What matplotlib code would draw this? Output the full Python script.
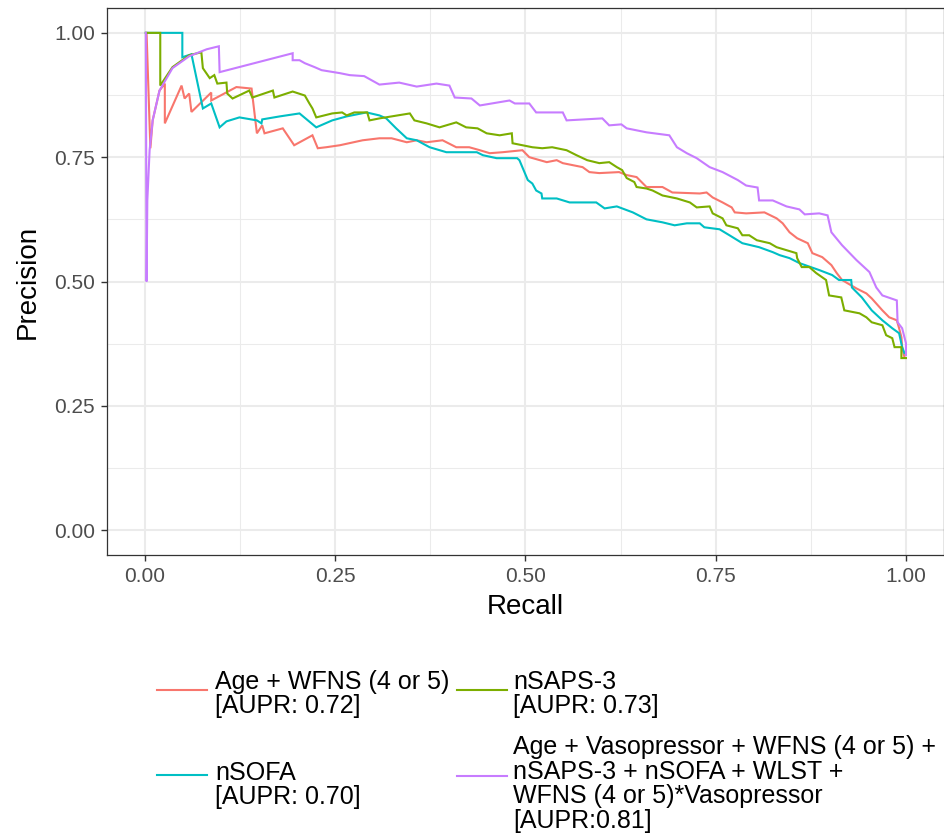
import matplotlib
matplotlib.use("Agg")
import matplotlib.pyplot as plt
from matplotlib.lines import Line2D

plt.rcParams['font.family'] = ['Liberation Sans', 'DejaVu Sans']

# ---------------- data ----------------
age_recall = [0.002, 0.007, 0.010, 0.019, 0.026, 0.026, 0.048, 0.052, 0.058, 0.061, 0.087, 0.087,
              0.120, 0.140, 0.147, 0.154, 0.157, 0.181, 0.196, 0.220, 0.227, 0.238,
              0.256, 0.286, 0.308, 0.324, 0.344, 0.357, 0.370, 0.391, 0.409, 0.426,
              0.440, 0.453, 0.470, 0.496, 0.505, 0.528, 0.541, 0.549, 0.575, 0.584,
              0.597, 0.623, 0.633, 0.646, 0.659, 0.680, 0.693, 0.729, 0.738, 0.746,
              0.759, 0.771, 0.775, 0.790, 0.814, 0.830, 0.838, 0.847, 0.857, 0.871,
              0.877, 0.890, 0.902, 0.909, 0.916, 0.935, 0.948, 0.955, 0.969, 0.978,
              0.988, 0.991, 0.994, 0.995, 0.998]
age_precision = [1.000, 0.768, 0.824, 0.884, 0.898, 0.818, 0.894, 0.868, 0.878, 0.841, 0.880, 0.864,
                 0.891, 0.888, 0.798, 0.814, 0.798, 0.808, 0.774, 0.794, 0.768, 0.770,
                 0.774, 0.784, 0.788, 0.788, 0.780, 0.784, 0.780, 0.784, 0.770, 0.770,
                 0.764, 0.758, 0.760, 0.764, 0.750, 0.740, 0.744, 0.738, 0.730, 0.720,
                 0.718, 0.720, 0.714, 0.710, 0.690, 0.690, 0.679, 0.677, 0.679, 0.669,
                 0.659, 0.649, 0.639, 0.637, 0.639, 0.627, 0.617, 0.599, 0.587, 0.577,
                 0.557, 0.549, 0.533, 0.517, 0.503, 0.486, 0.476, 0.466, 0.442, 0.428,
                 0.422, 0.406, 0.388, 0.368, 0.348]

nsaps_recall = [0.001, 0.020, 0.020, 0.036, 0.058, 0.074, 0.076, 0.085, 0.091, 0.095,
                0.107, 0.108, 0.115, 0.137, 0.141, 0.168, 0.170, 0.194, 0.210, 0.216,
                0.220, 0.225, 0.246, 0.259, 0.265, 0.275, 0.292, 0.295, 0.308, 0.348,
                0.354, 0.370, 0.387, 0.409, 0.422, 0.437, 0.449, 0.466, 0.482, 0.483,
                0.509, 0.522, 0.535, 0.554, 0.567, 0.581, 0.597, 0.610, 0.620, 0.627,
                0.633, 0.643, 0.646, 0.659, 0.667, 0.680, 0.699, 0.716, 0.725, 0.742,
                0.746, 0.759, 0.764, 0.779, 0.785, 0.794, 0.804, 0.821, 0.830, 0.843,
                0.856, 0.857, 0.863, 0.873, 0.882, 0.895, 0.899, 0.915, 0.919, 0.939,
                0.948, 0.955, 0.969, 0.974, 0.982, 0.985, 0.994, 0.994, 1.000]
nsaps_precision = [1.000, 1.000, 0.894, 0.931, 0.955, 0.961, 0.929, 0.909, 0.915, 0.898,
                   0.900, 0.878, 0.868, 0.884, 0.870, 0.884, 0.870, 0.882, 0.874, 0.858,
                   0.848, 0.830, 0.838, 0.840, 0.834, 0.840, 0.840, 0.824, 0.828, 0.838,
                   0.824, 0.818, 0.810, 0.820, 0.810, 0.808, 0.798, 0.794, 0.798, 0.778,
                   0.770, 0.768, 0.770, 0.764, 0.754, 0.744, 0.738, 0.740, 0.730, 0.724,
                   0.708, 0.700, 0.690, 0.687, 0.683, 0.673, 0.667, 0.659, 0.649, 0.651,
                   0.637, 0.627, 0.613, 0.607, 0.593, 0.593, 0.583, 0.577, 0.569, 0.563,
                   0.557, 0.547, 0.529, 0.529, 0.517, 0.503, 0.472, 0.468, 0.442, 0.436,
                   0.428, 0.418, 0.412, 0.392, 0.386, 0.368, 0.368, 0.346, 0.346]

nsofa_recall = [0.001, 0.049, 0.049, 0.061, 0.076, 0.087, 0.098, 0.107, 0.124, 0.147,
                0.153, 0.154, 0.177, 0.203, 0.225, 0.246, 0.265, 0.291, 0.308, 0.317,
                0.330, 0.344, 0.357, 0.374, 0.396, 0.436, 0.444, 0.462, 0.489, 0.492,
                0.503, 0.509, 0.514, 0.521, 0.522, 0.541, 0.558, 0.593, 0.604, 0.620,
                0.641, 0.659, 0.680, 0.696, 0.712, 0.729, 0.735, 0.755, 0.768, 0.785,
                0.807, 0.825, 0.834, 0.847, 0.860, 0.886, 0.903, 0.912, 0.928, 0.929,
                0.942, 0.955, 0.969, 0.982, 0.991, 0.995, 0.998]
nsofa_precision = [1.000, 1.000, 0.951, 0.957, 0.848, 0.858, 0.810, 0.822, 0.830, 0.824,
                   0.818, 0.826, 0.832, 0.838, 0.810, 0.824, 0.832, 0.840, 0.834, 0.828,
                   0.808, 0.788, 0.784, 0.770, 0.760, 0.760, 0.754, 0.748, 0.748, 0.744,
                   0.704, 0.697, 0.683, 0.677, 0.667, 0.667, 0.659, 0.659, 0.647, 0.651,
                   0.639, 0.625, 0.619, 0.613, 0.617, 0.617, 0.609, 0.605, 0.593, 0.577,
                   0.569, 0.559, 0.553, 0.547, 0.537, 0.523, 0.513, 0.503, 0.503, 0.488,
                   0.468, 0.442, 0.422, 0.406, 0.396, 0.368, 0.356]

full_recall = [0.001, 0.002, 0.003, 0.006, 0.010, 0.019, 0.036, 0.058, 0.081, 0.097,
               0.098, 0.194, 0.194, 0.203, 0.210, 0.223, 0.232, 0.256, 0.269, 0.288,
               0.308, 0.334, 0.357, 0.383, 0.400, 0.407, 0.429, 0.440, 0.479, 0.486,
               0.505, 0.514, 0.549, 0.554, 0.601, 0.610, 0.626, 0.633, 0.659, 0.689,
               0.699, 0.712, 0.725, 0.742, 0.759, 0.779, 0.790, 0.805, 0.807, 0.825,
               0.843, 0.860, 0.867, 0.886, 0.897, 0.902, 0.916, 0.935, 0.952, 0.961,
               0.969, 0.988, 0.989, 0.995, 1.000, 1.000]
full_precision = [1.000, 0.500, 0.663, 0.764, 0.824, 0.884, 0.929, 0.953, 0.967, 0.973,
                  0.921, 0.959, 0.945, 0.945, 0.939, 0.931, 0.925, 0.919, 0.915, 0.913,
                  0.896, 0.900, 0.892, 0.898, 0.894, 0.870, 0.868, 0.854, 0.864, 0.858,
                  0.858, 0.840, 0.840, 0.824, 0.828, 0.814, 0.816, 0.808, 0.800, 0.794,
                  0.770, 0.758, 0.748, 0.730, 0.720, 0.704, 0.693, 0.689, 0.663, 0.663,
                  0.651, 0.645, 0.635, 0.637, 0.633, 0.599, 0.573, 0.543, 0.519, 0.488,
                  0.472, 0.462, 0.418, 0.406, 0.376, 0.352]

labels = ["Age + WFNS (4 or 5)\n[AUPR: 0.72]",
          "nSOFA\n[AUPR: 0.70]",
          "nSAPS-3\n[AUPR: 0.73]",
          "Age + Vasopressor + WFNS (4 or 5) +\nnSAPS-3 + nSOFA + WLST +\nWFNS (4 or 5)*Vasopressor\n[AUPR:0.81]"]
colors = ["#F8766D", "#00BFC4", "#7CAE00", "#C77CFF"]
tick_vals = [0.0, 0.25, 0.5, 0.75, 1.0]
tick_labels = ["0.00", "0.25", "0.50", "0.75", "1.00"]

# ---------------- figure ----------------
W, H = 945, 834
fig = plt.figure(figsize=(W / 100, H / 100), dpi=100)
ax = fig.add_axes([107 / W, 1 - 555 / H, 837 / W, 547 / H])

series = [(age_recall, age_precision), (nsofa_recall, nsofa_precision),
          (nsaps_recall, nsaps_precision), (full_recall, full_precision)]
for (r, p), c in zip(series, colors):
    ax.plot(r, p, color=c, lw=1.5, solid_joinstyle='miter')

ax.set_xlim(-0.05, 1.05)
ax.set_ylim(-0.05, 1.05)
ax.set_xticks(tick_vals)
ax.set_xticklabels(tick_labels)
ax.set_yticks(tick_vals)
ax.set_yticklabels(tick_labels)
minor = [0.125, 0.375, 0.625, 0.875]
ax.set_xticks(minor, minor=True)
ax.set_yticks(minor, minor=True)
ax.grid(which='major', color='#EBEBEB', lw=1.5)
ax.grid(which='minor', color='#EBEBEB', lw=0.75)
ax.set_axisbelow(True)
ax.tick_params(which='minor', length=0)
ax.tick_params(which='major', length=4.5, width=1.0, color='#333333',
               labelsize=15, labelcolor='#4D4D4D', pad=4)
for s in ax.spines.values():
    s.set_color('#333333')
    s.set_linewidth(0.9)

ax.set_xlabel("Recall", fontsize=20, labelpad=6)
ax.set_ylabel("Precision", fontsize=20, labelpad=10)

# ---------------- legend (bottom, two columns) ----------------
def fx(x):
    return x / W

def fy(y):
    return 1 - y / H

entries = [
    (157, 207, 690, 215, 694),   # Age + WFNS
    (157, 207, 775, 215, 785),   # nSOFA
    (457, 507, 690, 513, 694),   # nSAPS-3
    (457, 507, 776, 513, 784),   # full model
]
for (x0, x1, ky, tx, ty), lab, c in zip(entries, labels, colors):
    fig.add_artist(Line2D([fx(x0), fx(x1)], [fy(ky), fy(ky)], color=c, lw=1.5))
    fig.text(fx(tx), fy(ty), lab, fontsize=18, ha='left', va='center',
             linespacing=1.05, color='black')

fig.savefig("out.png", dpi=100)
